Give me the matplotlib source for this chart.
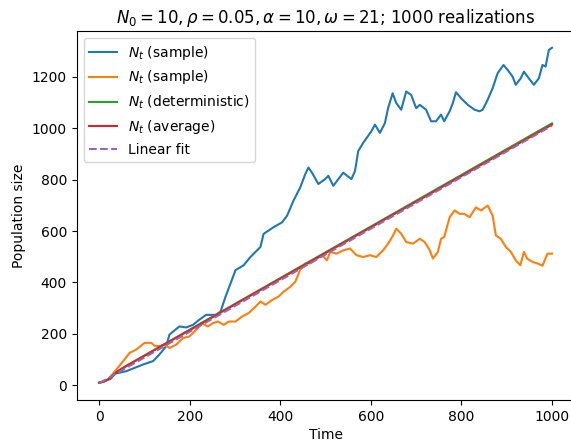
import matplotlib
matplotlib.use("Agg")
import matplotlib.pyplot as plt

#? Values
sample_1_t = [0, 25, 35, 60, 97, 119, 133, 148, 155, 177, 192, 207, 221, 236, 258, 268, 279, 290,
              301, 319, 334, 356, 363, 385, 404, 415, 429, 444, 455, 462, 470, 484, 499, 506, 517,
              539, 557, 565, 572, 583, 601, 609, 620, 631, 638, 648, 656, 667, 678, 689, 700, 708,
              722, 733, 744, 755, 762, 774, 781, 788, 799, 814, 829, 840, 847, 858, 869, 880, 893,
              902, 913, 920, 931, 938, 949, 960, 971, 979, 986, 993, 1000]
sample_1_n = [10, 25, 45, 55, 81, 94, 120, 152, 197, 229, 225, 235, 255, 274, 274, 287, 345, 396,
              448, 467, 499, 538, 589, 615, 634, 660, 718, 770, 821, 847, 827, 783, 802, 815, 776,
              827, 802, 834, 911, 943, 988, 1014, 982, 1020, 1078, 1136, 1098, 1072, 1143, 1130, 1078, 1091,
              1072, 1027, 1027, 1053, 1027, 1066, 1098, 1140, 1117, 1091, 1072, 1066, 1072, 1111, 1156, 1214, 1246,
              1227, 1201, 1169, 1194, 1220, 1194, 1169, 1194, 1246, 1240, 1304, 1313]

sample_2_t = [0, 20, 38, 53, 67, 82, 100, 115, 122, 133, 144, 155, 170, 185, 199, 207, 218, 225,
              240, 251, 262, 275, 286, 301, 316, 330, 345, 356, 367, 382, 396, 407, 422, 433, 444,
              455, 466, 481, 492, 503, 510, 524, 539, 554, 568, 583, 598, 612, 627, 638, 649, 656,
              667, 678, 693, 708, 719, 730, 737, 748, 755, 762, 774, 785, 796, 806, 818, 832, 843,
              858, 869, 876, 887, 898, 909, 920, 930, 938, 945, 957, 968, 979, 990, 1000]
sample_2_n = [10, 23, 62, 94, 126, 139, 165, 165, 154, 152, 158, 145, 158, 184, 190, 203, 223, 242,
              229, 242, 248, 235, 248, 248, 268, 281, 306, 326, 313, 332, 345, 364, 383, 403, 450,
              474, 474, 493, 506, 486, 519, 512, 525, 532, 506, 499, 506, 499, 525, 551, 583, 609,
              590, 557, 551, 570, 557, 525, 493, 519, 570, 577, 654, 680, 667, 667, 654, 692, 680,
              699, 660, 583, 570, 538, 519, 486, 467, 519, 493, 480, 474, 465, 512, 512]

mean_t = [0, 10, 20, 30, 40, 60, 1000]
deterministic_n = [10, 14, 23, 38, 54, 76, 1019]
average_n = [10, 14, 23, 38, 54, 75, 1014]

fit_t = [0, 1000]
fit_n = [8, 1010]

title = r"$N_0 = 10, \rho = 0.05, \alpha = 10, \omega = 21$; 1000 realizations"

#? Figure is a cropped default-size chart, so the axes run past the right edge
W, H = 571, 443
fig = plt.figure(figsize=(W / 100, H / 100), dpi=100)
ax = fig.add_axes([76.6 / W, (H - 400) / H, 498 / W, 369 / H])

ax.plot(sample_1_t, sample_1_n, label=r"$N_t$ (sample)")
ax.plot(sample_2_t, sample_2_n, label=r"$N_t$ (sample)")
ax.plot(mean_t, deterministic_n, label=r"$N_t$ (deterministic)")
ax.plot(mean_t, average_n, label=r"$N_t$ (average)")
ax.plot(fit_t, fit_n, "--", label="Linear fit")

ax.set_title(title)
ax.set_xlabel("Time", labelpad=3)
ax.set_ylabel("Population size")
ax.legend(loc="upper left")

fig.savefig("out.png", dpi=100)
